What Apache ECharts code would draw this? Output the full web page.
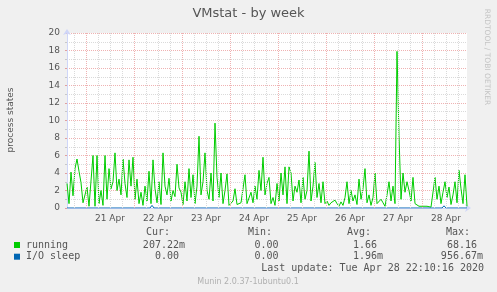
<!DOCTYPE html>
<html><head><meta charset="utf-8">
<script src="https://cdn.jsdelivr.net/npm/echarts@6/dist/echarts.min.js"></script>
<style>html,body{margin:0;padding:0;background:#F0F0F0}#c{width:497px;height:292px}</style>
</head><body><div id="c"></div>
<script>
// time in hours after 20 Apr 2020 00:00
const startHour = 14.5;
const endHour = 214.5;
const stepHours = 1;
const running = [
 2.8,0.5,4.1,1.4,4.5,5.6,4.2,2.9,0.6,0.7,
 2.4,0.2,0.3,6.0,0.2,6.0,0.5,2.0,0.3,6.0,
 1.0,4.5,2.2,3.0,6.3,2.0,3.3,1.5,5.6,2.8,
 1.2,5.5,2.5,5.8,1.0,3.3,0.5,1.8,0.3,2.5,
 0.8,4.2,0.5,5.5,2.2,0.6,3.0,0.4,6.3,2.5,
 1.5,3.4,0.8,2.0,1.3,5.0,2.3,1.8,0.4,3.0,
 0.8,4.5,1.2,3.8,0.5,2.5,8.2,1.5,3.0,6.3,
 2.0,1.0,4.0,0.8,9.7,3.5,1.2,4.0,0.5,2.0,
 3.9,0.3,0.5,0.8,2.2,0.4,0.3,0.6,0.5,3.8,
 0.5,0.3,1.8,0.6,2.5,1.0,4.3,2.0,5.8,1.5,
 2.8,3.5,0.5,1.2,0.3,2.8,0.8,4.0,1.5,4.7,
 0.5,4.7,4.0,0.8,2.5,1.8,3.2,0.6,3.5,1.0,
 2.0,6.5,0.8,2.5,5.2,1.2,2.8,0.6,3.0,0.5,
 0.8,0.3,0.6,0.4,0.9,0.5,0.2,0.7,0.3,1.2,
 3.0,0.5,2.0,0.8,1.5,0.4,3.3,1.0,2.2,4.5,
 0.6,1.5,0.3,1.2,4.0,0.5,0.3,1.0,0.6,0.2,
 1.5,3.0,0.8,2.5,0.5,17.9,8.3,1.0,4.0,1.8,
 3.0,2.0,0.8,3.5,0.5,0.3,0.2,0.1,0.2,0.1,
 0.2,0.4,0.1,0.2,3.5,1.0,2.5,0.5,1.8,3.0,
 1.2,2.4,0.4,1.5,3.0,0.6,4.3,2.2,0.5,3.8,
 0.2
];
const ioSleepHours  = [14.5, 56, 57, 58, 76, 77, 78, 202, 203, 204, 214.5];
const ioSleepValues = [0,    0, 0.3, 0,  0, 0.15, 0,  0,  0.25, 0,  0];
const dayLabelHours = [36, 60, 84, 108, 132, 156, 180, 204];
const dayLabels = ['21 Apr','22 Apr','23 Apr','24 Apr','25 Apr','26 Apr','27 Apr','28 Apr'];
const midnightHours = [24, 48, 72, 96, 120, 144, 168, 192];
const sixHourHours = [18,30,36,42,54,60,66,78,84,90,102,108,114,126,132,138,150,156,162,174,180,186,198,204,210];
const yTicks = [0,2,4,6,8,10,12,14,16,18,20];
const legendNames = ['running','I/O sleep'];
const legendColors = ['#00CC00','#0066B3'];
const curVals = ['207.22m','0.00 '];
const minVals = ['0.00 ','0.00 '];
const avgVals = ['1.66 ','1.96m'];
const maxVals = ['68.16 ','956.67m'];
const lastUpdate = 'Last update: Tue Apr 28 22:10:16 2020';

const runData = running.map((v, i) => [startHour + i * stepHours, v]);
const ioData = ioSleepHours.map((h, i) => [h, ioSleepValues[i]]);

const FONT = 'DejaVu Sans';
const MONO = 'DejaVu Sans Mono';
const TXT = '#555';
const MINOR = '#DADADA';
const MAJOR = '#EFB2B2';

const gridLines = [];
sixHourHours.forEach(h => gridLines.push({xAxis: h, lineStyle: {color: MINOR, type: [1, 1], width: 1}}));
midnightHours.forEach(h => gridLines.push({xAxis: h, lineStyle: {color: MAJOR, type: [1, 1], width: 1}}));

const graphics = [
  {type: 'text', x: 11, y: 120, rotation: Math.PI / 2,
   style: {text: 'process states', fill: TXT, font: '9px "' + FONT + '"', align: 'center', verticalAlign: 'middle'}},
  {type: 'text', x: 487, y: 57, rotation: -Math.PI / 2,
   style: {text: 'RRDTOOL / TOBI OETIKER', fill: '#C4C4C4', font: '7.5px "' + FONT + '"', align: 'center', verticalAlign: 'middle'}},
  {type: 'text', x: 170, y: 232, style: {text: 'Cur:', fill: TXT, font: '10px "' + MONO + '"', align: 'right', verticalAlign: 'middle'}},
  {type: 'text', x: 272, y: 232, style: {text: 'Min:', fill: TXT, font: '10px "' + MONO + '"', align: 'right', verticalAlign: 'middle'}},
  {type: 'text', x: 371, y: 232, style: {text: 'Avg:', fill: TXT, font: '10px "' + MONO + '"', align: 'right', verticalAlign: 'middle'}},
  {type: 'text', x: 470, y: 232, style: {text: 'Max:', fill: TXT, font: '10px "' + MONO + '"', align: 'right', verticalAlign: 'middle'}},
  {type: 'text', x: 484, y: 268.5, style: {text: lastUpdate, fill: TXT, font: '10px "' + MONO + '"', align: 'right', verticalAlign: 'middle'}},
  {type: 'text', x: 248, y: 282, style: {text: 'Munin 2.0.37-1ubuntu0.1', fill: '#B0B0B0', font: '8px "' + FONT + '"', align: 'center', verticalAlign: 'middle'}}
];
const rowY = [245, 256.7];
legendNames.forEach((n, r) => {
  const y = rowY[r];
  graphics.push({type: 'rect', shape: {x: 14, y: y - 3, width: 6, height: 6}, style: {fill: legendColors[r]}});
  graphics.push({type: 'text', x: 26, y: y, style: {text: n, fill: TXT, font: '10px "' + MONO + '"', align: 'left', verticalAlign: 'middle'}});
  [[curVals, 185], [minVals, 284.5], [avgVals, 383], [maxVals, 483]].forEach(([arr, x]) => {
    graphics.push({type: 'text', x: x, y: y, style: {text: arr[r], fill: TXT, font: '10px "' + MONO + '"', align: 'right', verticalAlign: 'middle'}});
  });
});

const chart = echarts.init(document.getElementById('c'), null, {renderer: 'canvas'});
chart.setOption({
  animation: false,
  backgroundColor: '#F0F0F0',
  title: {text: 'VMstat - by week', left: 'center', top: 7, padding: 0,
    textStyle: {fontSize: 13, fontWeight: 'normal', color: TXT, fontFamily: FONT}},
  grid: {left: 67, right: 30, top: 33, bottom: 84, show: true, backgroundColor: '#FFFFFF', borderWidth: 0, containLabel: false},
  xAxis: {
    type: 'value', min: startHour, max: endHour,
    axisLine: {show: true, onZero: false, lineStyle: {color: '#CFD6F8', width: 1}, symbol: ['none', 'arrow'], symbolSize: [6, 6], symbolOffset: [0, 4]},
    axisTick: {show: false},
    splitLine: {show: false},
    axisLabel: {customValues: dayLabelHours, formatter: v => dayLabels[dayLabelHours.indexOf(v)] || '',
      fontSize: 9, color: TXT, fontFamily: FONT, margin: 6}
  },
  yAxis: {
    type: 'value', min: 0, max: 20, interval: 2,
    axisLine: {show: true, lineStyle: {color: '#CFD6F8', width: 1}, symbol: ['none', 'arrow'], symbolSize: [6, 6], symbolOffset: [0, 4]},
    axisTick: {show: true, length: 2, lineStyle: {color: '#E0A0A0'}},
    minorTick: {show: true, splitNumber: 2, length: 2, lineStyle: {color: '#C8C8C8'}},
    splitLine: {show: true, lineStyle: {color: MAJOR, type: [1, 1], width: 1}},
    minorSplitLine: {show: true, lineStyle: {color: MINOR, type: [1, 1], width: 1}},
    axisLabel: {customValues: yTicks, fontSize: 9, color: TXT, fontFamily: FONT, margin: 7}
  },
  series: [
    {type: 'line', z: 1, data: [], silent: true,
     markLine: {silent: true, symbol: ['none', 'none'], label: {show: false}, animation: false, data: gridLines}},
    {name: 'running', type: 'line', z: 3, data: runData, showSymbol: false, symbol: 'none',
     lineStyle: {color: '#00CC00', width: 1}, itemStyle: {color: '#00CC00'}},
    {name: 'I/O sleep', type: 'line', z: 4, data: ioData, showSymbol: false, symbol: 'none',
     lineStyle: {color: '#0066B3', width: 1}, itemStyle: {color: '#0066B3'}}
  ],
  graphic: graphics
});
</script></body></html>
